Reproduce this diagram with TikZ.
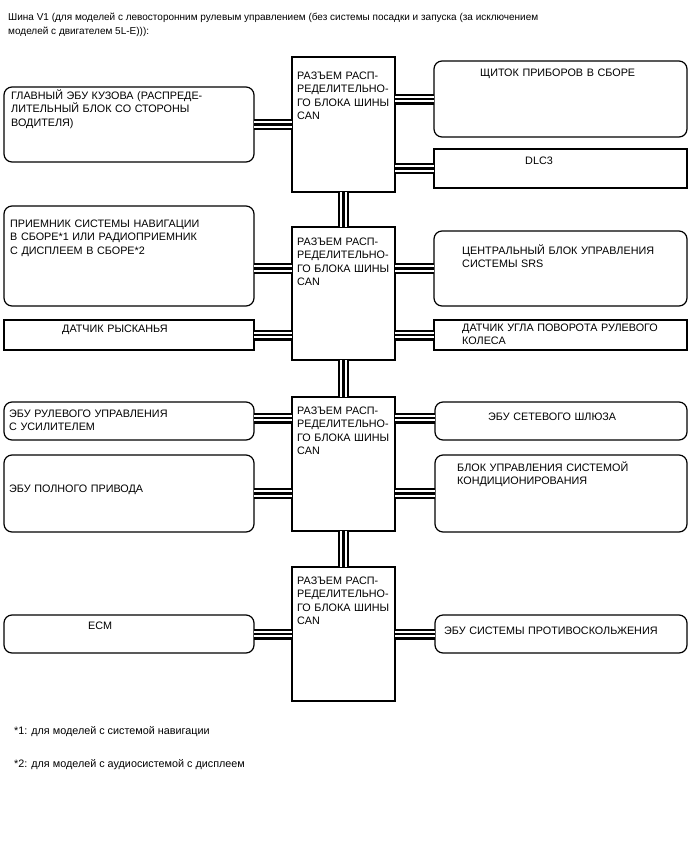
\documentclass[tikz,border=0pt]{standalone}
\usepackage{fontspec}
\setmainfont{Liberation Sans}
\begin{document}
\begin{tikzpicture}[x=1pt,y=-1pt,
  rbox/.style={draw, line width=1.2pt, rounded corners=8pt, inner sep=0pt, outer sep=0pt, anchor=north west},
  sbox/.style={draw, line width=1.2pt, inner sep=0pt, outer sep=0pt, anchor=north west},
  cbox/.style={sbox, minimum width=103pt},
  lbl/.style={anchor=base west, inner sep=0pt, text width=250pt, align=left, font=\fontsize{10.8}{13.6}\selectfont},
  hdr/.style={anchor=base west, inner sep=0pt, font=\fontsize{10}{14}\selectfont},
  note/.style={anchor=base west, inner sep=0pt, font=\fontsize{10.8}{12}\selectfont},
  bus/.style={line width=11pt, draw=black, postaction={draw=white, line width=6.6pt}, postaction={draw=black, line width=2.2pt}}
]
\useasboundingbox (0,0) rectangle (688,852);

% header
\node[hdr] (h1) at (8,20) {Шина V1 (для моделей с левосторонним рулевым управлением (без системы посадки и запуска (за исключением};
\node[hdr] (h2) at (8,34) {моделей с двигателем 5L-E))):};

% central connector boxes
\node[cbox, minimum height=135pt] (c1) at (292,57) {};
\node[cbox, minimum height=133pt] (c2) at (292,227) {};
\node[cbox, minimum height=134pt] (c3) at (292,397) {};
\node[cbox, minimum height=134pt] (c4) at (292,567) {};

% left boxes
\node[rbox, minimum width=250pt, minimum height=75pt] (gl) at (4,87) {};
\node[rbox, minimum width=250pt, minimum height=100pt] (nav) at (4,206) {};
\node[sbox, minimum width=250pt, minimum height=30pt] (yaw) at (4,320) {};
\node[rbox, minimum width=250pt, minimum height=38pt] (eps) at (4,402) {};
\node[rbox, minimum width=250pt, minimum height=77pt] (awd) at (4,455) {};
\node[rbox, minimum width=250pt, minimum height=38pt] (ecm) at (4,615) {};

% right boxes
\node[rbox, minimum width=253pt, minimum height=76pt] (meter) at (434,61) {};
\node[sbox, minimum width=253pt, minimum height=39pt] (dlc) at (434,149) {};
\node[rbox, minimum width=253pt, minimum height=75pt] (srs) at (434,231) {};
\node[sbox, minimum width=253pt, minimum height=30pt] (steer) at (434,320) {};
\node[rbox, minimum width=252pt, minimum height=38pt] (gw) at (435,402) {};
\node[rbox, minimum width=252pt, minimum height=77pt] (ac) at (435,455) {};
\node[rbox, minimum width=252pt, minimum height=38pt] (abs) at (435,615) {};

% buses
\draw[bus] (c1.south) -- (c2.north);
\draw[bus] (c2.south) -- (c3.north);
\draw[bus] (c3.south) -- (c4.north);

\draw[bus] (gl.east) -- (gl.east -| c1.west);
\draw[bus] (meter.west) -- (meter.west -| c1.east);
\draw[bus] (dlc.west) -- (dlc.west -| c1.east);

\draw[bus] (nav.east |- srs.west) -- (c2.west |- srs.west);
\draw[bus] (srs.west) -- (srs.west -| c2.east);
\draw[bus] (yaw.east) -- (yaw.east -| c2.west);
\draw[bus] (steer.west) -- (steer.west -| c2.east);

\draw[bus] ([yshift=3pt]eps.east) -- ([yshift=3pt]eps.east -| c3.west);
\draw[bus] ([yshift=3pt]gw.west) -- ([yshift=3pt]gw.west -| c3.east);
\draw[bus] (awd.east) -- (awd.east -| c3.west);
\draw[bus] (ac.west) -- (ac.west -| c3.east);

\draw[bus] (ecm.east) -- (ecm.east -| c4.west);
\draw[bus] (abs.west) -- (abs.west -| c4.east);

% central labels
\node[lbl, text width=100pt] (t1) at (297,79) {РАЗЪЕМ РАСП-\\РЕДЕЛИТЕЛЬНО-\\ГО БЛОКА ШИНЫ\\CAN};
\node[lbl, text width=100pt] (t2) at (297,245) {РАЗЪЕМ РАСП-\\РЕДЕЛИТЕЛЬНО-\\ГО БЛОКА ШИНЫ\\CAN};
\node[lbl, text width=100pt] (t3) at (297,414) {РАЗЪЕМ РАСП-\\РЕДЕЛИТЕЛЬНО-\\ГО БЛОКА ШИНЫ\\CAN};
\node[lbl, text width=100pt] (t4) at (297,584) {РАЗЪЕМ РАСП-\\РЕДЕЛИТЕЛЬНО-\\ГО БЛОКА ШИНЫ\\CAN};

% left labels
\node[lbl] (tgl) at (11,99) {ГЛАВНЫЙ ЭБУ КУЗОВА (РАСПРЕДЕ-\\ЛИТЕЛЬНЫЙ БЛОК СО СТОРОНЫ\\ВОДИТЕЛЯ)};
\node[lbl] (tnav) at (10,227) {ПРИЕМНИК СИСТЕМЫ НАВИГАЦИИ\\В СБОРЕ*1 ИЛИ РАДИОПРИЕМНИК\\С ДИСПЛЕЕМ В СБОРЕ*2};
\node[lbl] (tyaw) at (62,332) {ДАТЧИК РЫСКАНЬЯ};
\node[lbl] (teps) at (9,417) {ЭБУ РУЛЕВОГО УПРАВЛЕНИЯ\\С УСИЛИТЕЛЕМ};
\node[lbl] (tawd) at (9,492) {ЭБУ ПОЛНОГО ПРИВОДА};
\node[lbl] (tecm) at (88,629) {ECM};

% right labels
\node[lbl] (tmeter) at (480,76) {ЩИТОК ПРИБОРОВ В СБОРЕ};
\node[lbl] (tdlc) at (525,164) {DLC3};
\node[lbl] (tsrs) at (462,254) {ЦЕНТРАЛЬНЫЙ БЛОК УПРАВЛЕНИЯ\\СИСТЕМЫ SRS};
\node[lbl] (tsteer) at (462,331) {ДАТЧИК УГЛА ПОВОРОТА РУЛЕВОГО\\КОЛЕСА};
\node[lbl] (tgw) at (488,420) {ЭБУ СЕТЕВОГО ШЛЮЗА};
\node[lbl] (tac) at (457,471) {БЛОК УПРАВЛЕНИЯ СИСТЕМОЙ\\КОНДИЦИОНИРОВАНИЯ};
\node[lbl] (tabs) at (444,634) {ЭБУ СИСТЕМЫ ПРОТИВОСКОЛЬЖЕНИЯ};

% footnotes
\node[note] (n1) at (14,734) {*1: для моделей с системой навигации};
\node[note] (n2) at (14,767) {*2: для моделей с аудиосистемой с дисплеем};
\end{tikzpicture}
\end{document}
